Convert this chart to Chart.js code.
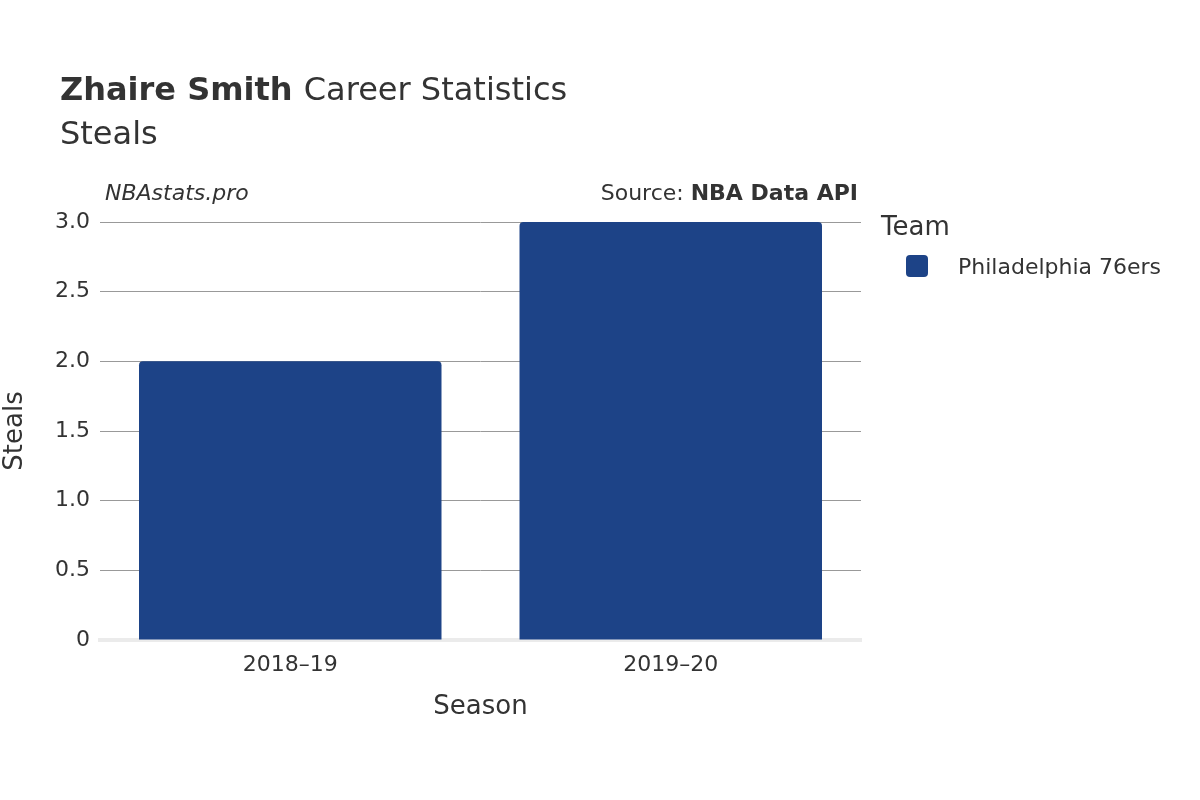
<!DOCTYPE html>
<html>
<head>
<meta charset="utf-8">
<script src="https://cdn.jsdelivr.net/npm/chart.js@4"></script>
<style>
  body { margin: 0; background: #fff; }
  #wrap { width: 1200px; height: 800px; }
</style>
</head>
<body>
<div id="wrap"><canvas id="chart"></canvas></div>
<script>
const seasons = ["2018\u201319", "2019\u201320"];
const steals = [2, 3];
const team = "Philadelphia 76ers";
const teamColor = "#1d4387";
const yTicks = [0, 0.5, 1, 1.5, 2, 2.5, 3];

const FONT = "'DejaVu Sans', sans-serif";
const TXT = "#333";

// title, credits and legend are drawn by hand
const decor = {
  id: "decor",
  afterDraw(chart) {
    const c = chart.ctx;
    c.save();
    c.fillStyle = TXT;
    c.textBaseline = "alphabetic";
    c.font = "bold 32px " + FONT;
    c.fillText("Zhaire Smith", 60, 100);
    let w = c.measureText("Zhaire Smith ").width;
    c.font = "32px " + FONT;
    c.fillText("Career Statistics", 60 + w, 100);
    c.fillText("Steals", 60, 144);

    c.font = "italic 22px " + FONT;
    c.fillText("NBAstats.pro", 105, 200);
    c.textAlign = "right";
    c.font = "bold 22px " + FONT;
    c.fillText("NBA Data API", 858, 200);
    let bw = c.measureText("NBA Data API").width;
    c.font = "22px " + FONT;
    c.fillText("Source: ", 858 - bw, 200);

    c.textAlign = "left";
    c.font = "26px " + FONT;
    c.fillText("Team", 881, 235);
    c.fillStyle = teamColor;
    c.beginPath();
    c.roundRect(906, 255, 22, 22, 4);
    c.fill();
    c.fillStyle = TXT;
    c.font = "22px " + FONT;
    c.fillText(team, 958, 274);
    c.restore();
  }
};

const ctx = document.getElementById("chart").getContext("2d");
const chart = new Chart(ctx, {
  type: "bar",
  data: {
    labels: seasons,
    datasets: [{
      label: team,
      data: steals,
      backgroundColor: teamColor,
      borderRadius: 4,
      borderSkipped: "bottom",
      barPercentage: 0.795,
      categoryPercentage: 1
    }]
  },
  options: {
    responsive: true,
    maintainAspectRatio: false,
    animation: false,
    layout: { padding: { top: 222, right: 339, bottom: 73, left: 0 } },
    plugins: { legend: { display: false }, tooltip: { enabled: false } },
    scales: {
      x: {
        grid: { display: false },
        border: { color: "#ebebeb", width: 4 },
        ticks: { color: TXT, font: { family: FONT, size: 22 }, padding: 4 },
        title: { display: true, text: "Season", color: TXT, font: { family: FONT, size: 26 } },
        afterFit(s) { s.height = 87; }
      },
      y: {
        min: 0, max: 3,
        afterBuildTicks(s) { s.ticks = yTicks.map(v => ({ value: v })); },
        grid: { color: "#999", lineWidth: 1, drawTicks: false },
        border: { display: false },
        ticks: { color: TXT, font: { family: FONT, size: 22 }, padding: 10 },
        title: { display: true, text: "Steals", color: TXT, font: { family: FONT, size: 26 }, padding: 0 },
        afterFit(s) { s.width = 100; }
      }
    }
  },
  plugins: [decor]
});
</script>
</body>
</html>
